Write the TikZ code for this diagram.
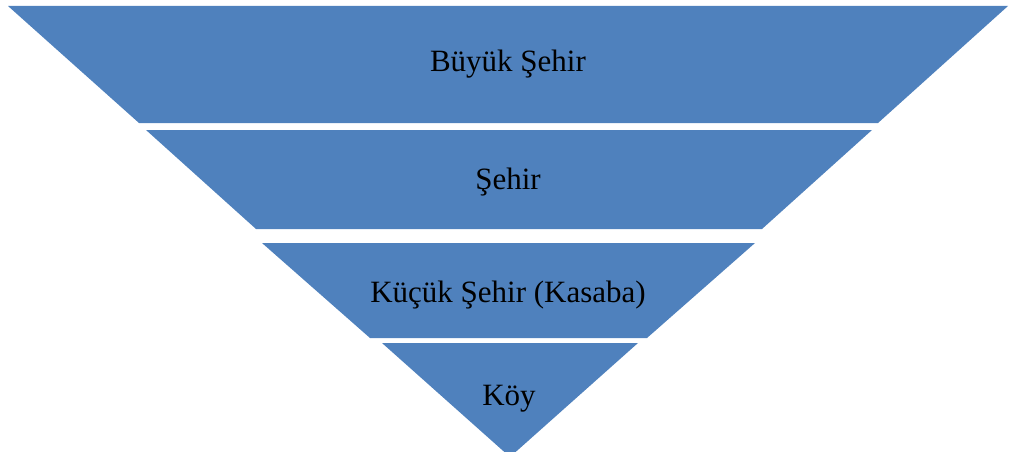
\documentclass[tikz,border=0pt]{standalone}
\usepackage{fontspec}
\setmainfont{Liberation Serif}
\usepackage{xcolor}
\definecolor{bandblue}{HTML}{4F81BD}

\begin{document}
\begin{tikzpicture}[
        x=1pt,
        y=-1pt,
        band/.style={
            fill=bandblue,
            draw=none
        },
        level/.style={
            font=\fontsize{31}{36}\selectfont,
            text=black,
            anchor=base,
            inner sep=0pt
        }
    ]

    \useasboundingbox (0,0) rectangle (1010,452);
    \clip (0,0) rectangle (1010,452);

    % the four levels, widest on top
    \fill[band] (8,6) -- (1008,6) -- (878,123) -- (139,123) -- cycle;
    \fill[band] (146,130) -- (872,130) -- (762,229) -- (256,229) -- cycle;
    \fill[band] (262,243) -- (755,243) -- (647,338) -- (370,338) -- cycle;
    \fill[band] (382,343) -- (638,343) -- (510,457) -- cycle;

    \node[level] (metropol) at (508,72) {Büyük Şehir};
    \node[level] (sehir) at (508,189) {Şehir};
    \node[level] (kasaba) at (508,302) {Küçük Şehir (Kasaba)};
    \node[level] (koy) at (509,405) {Köy};

\end{tikzpicture}
\end{document}
